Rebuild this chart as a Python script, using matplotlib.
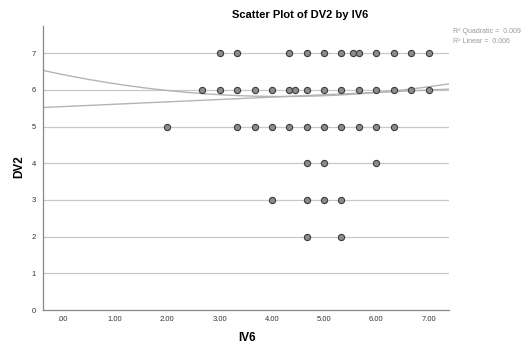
import matplotlib
matplotlib.use("Agg")
import matplotlib.pyplot as plt
import numpy as np

plt.rcParams['font.family'] = ['Liberation Sans', 'DejaVu Sans']

# IV6 values observed at each DV2 level
row7 = [3.00, 3.33, 4.33, 4.67, 5.00, 5.33, 5.56, 5.67, 6.00, 6.33, 6.67, 7.00]
row6 = [2.67, 3.00, 3.33, 3.67, 4.00, 4.33, 4.44, 4.67, 5.00, 5.33, 5.67, 6.00, 6.33, 6.67, 7.00]
row5 = [2.00, 3.33, 3.67, 4.00, 4.33, 4.67, 5.00, 5.33, 5.67, 6.00, 6.33]
row4 = [4.67, 5.00, 6.00]
row3 = [4.00, 4.67, 5.00, 5.33]
row2 = [4.67, 5.33]
dv2_levels = [7, 6, 5, 4, 3, 2]

# fit lines (coefficients): a + b*x (+ c*x^2)
linear_coef = [5.545, 0.0644]
quad_coef = [6.418, -0.2848, 0.0339]
r2_labels = ["R\u00b2 Quadratic =  0.009", "R\u00b2 Linear =  0.006"]

x_ticks = [0, 1, 2, 3, 4, 5, 6, 7]
x_ticklabels = [".00", "1.00", "2.00", "3.00", "4.00", "5.00", "6.00", "7.00"]
y_ticks = [0, 1, 2, 3, 4, 5, 6, 7]

fig = plt.figure(figsize=(5.23, 3.52), dpi=100)
ax = fig.add_axes([0.0822, 0.1193, 0.7763, 0.8077])
xmin, xmax = -0.38, 7.39
ax.set_xlim(xmin, xmax)
ax.set_ylim(0, 7.75)

for yv in y_ticks[1:]:
    ax.axhline(yv, color='#c8c8c8', lw=0.9, zorder=1)

xs = np.linspace(xmin, xmax, 200)
ax.plot(xs, linear_coef[0] + linear_coef[1] * xs, color='#b4b4b4', lw=1.0, zorder=2)
ax.plot(xs, quad_coef[0] + quad_coef[1] * xs + quad_coef[2] * xs**2, color='#b4b4b4', lw=1.0, zorder=2)

for lvl, row in zip(dv2_levels, [row7, row6, row5, row4, row3, row2]):
    ax.scatter(row, [lvl] * len(row), s=20, facecolor='#8c8c8c', edgecolor='#3c3c3c',
               linewidths=0.8, zorder=3)

ax.set_xticks(x_ticks)
ax.set_xticklabels(x_ticklabels)
ax.set_yticks(y_ticks)
ax.tick_params(axis='x', length=0, labelsize=5.5, colors='#333333', pad=4)
ax.tick_params(axis='y', length=0, labelsize=5.5, colors='#333333', pad=5)
for s in ['top', 'right']:
    ax.spines[s].set_visible(False)
for s in ['left', 'bottom']:
    ax.spines[s].set_color('#888888')
    ax.spines[s].set_linewidth(0.9)

fig.text(0.472, 0.04, "IV6", ha='center', va='center', fontsize=8.5, fontweight='bold')
fig.text(0.036, 0.526, "DV2", ha='center', va='center', rotation=90,
         fontsize=8.5, fontweight='bold')
fig.text(0.574, 0.957, "Scatter Plot of DV2 by IV6", ha='center', va='center',
         fontsize=8, fontweight='bold')
fig.text(0.866, 0.91, r2_labels[0], ha='left', va='center', fontsize=5, color='#999999')
fig.text(0.866, 0.881, r2_labels[1], ha='left', va='center', fontsize=5, color='#999999')

fig.savefig("out.png", dpi=100)
